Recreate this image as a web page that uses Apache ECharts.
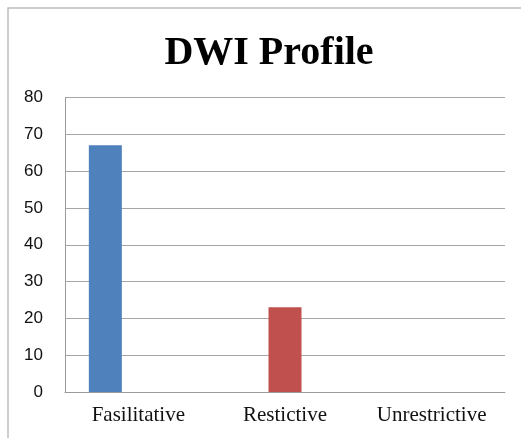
<!DOCTYPE html>
<html>
<head>
<meta charset="utf-8">
<script src="https://cdn.jsdelivr.net/npm/echarts@6/dist/echarts.min.js"></script>
<style>
  html, body { margin: 0; padding: 0; background: #fff; }
  #chart { width: 521px; height: 438px; }
</style>
</head>
<body>
<div id="chart"></div>
<script>
var categories = ['Fasilitative', 'Restictive', 'Unrestrictive'];
var fasilitativeValues = [67, 0, 0];
var restictiveValues = [0, 23, 0];
var unrestrictiveValues = [0, 0, 0];
var yTicks = [0, 10, 20, 30, 40, 50, 60, 70, 80];

var colors = ['#4F81BD', '#C0504D', '#9BBB59'];

var chart = echarts.init(document.getElementById('chart'));

function barSeries(name, values, color) {
    return {
        name: name,
        type: 'bar',
        barWidth: 33,
        barGap: '0%',
        itemStyle: { color: color },
        data: values
    };
}

chart.setOption({
    animation: false,
    // outer frame, only top and left edges fall inside the picture
    graphic: [{
        type: 'rect',
        shape: { x: 8, y: 8, width: 600, height: 500 },
        style: { fill: 'none', stroke: '#bdbdbd', lineWidth: 1.5 },
        z: -1
    }],
    title: {
        text: 'DWI Profile',
        left: 264,
        top: 29,
        textAlign: 'center',
        textStyle: {
            fontFamily: 'Liberation Serif',
            fontWeight: 'bold',
            fontSize: 40,
            color: '#000'
        }
    },
    grid: { left: 65, right: 16, top: 97.5, bottom: 46 },
    xAxis: {
        type: 'category',
        data: categories,
        axisLine: { lineStyle: { color: '#9a9a9a', width: 1 } },
        axisTick: { show: false },
        axisLabel: {
            margin: 13,
            fontFamily: 'Liberation Serif',
            fontSize: 21,
            color: '#111'
        }
    },
    yAxis: {
        type: 'value',
        min: yTicks[0],
        max: yTicks[yTicks.length - 1],
        interval: 10,
        axisLine: { show: true, lineStyle: { color: '#9a9a9a', width: 1 } },
        axisTick: { show: false },
        splitLine: { lineStyle: { color: '#a6a6a6', width: 1 } },
        axisLabel: {
            margin: 22,
            fontFamily: 'Liberation Sans',
            fontSize: 17,
            color: '#111'
        }
    },
    series: [
        barSeries('Fasilitative', fasilitativeValues, colors[0]),
        barSeries('Restictive', restictiveValues, colors[1]),
        barSeries('Unrestrictive', unrestrictiveValues, colors[2])
    ]
});
</script>
</body>
</html>
